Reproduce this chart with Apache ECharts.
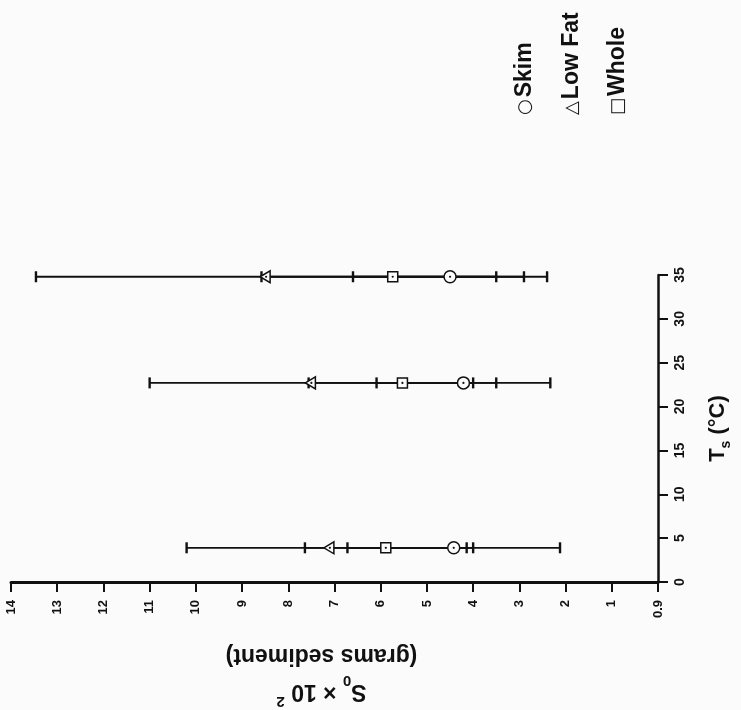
<!DOCTYPE html>
<html>
<head>
<meta charset="utf-8">
<title>Sediment vs storage temperature</title>
<script src="https://cdn.jsdelivr.net/npm/echarts@6/dist/echarts.min.js"></script>
<style>
  html, body { margin: 0; padding: 0; background: #fbfbfb; }
  #chart { width: 741px; height: 710px; }
</style>
</head>
<body>
<div id="chart"></div>
<script>
// Storage temperatures (°C) at which sediment was measured
const temperatures = [3.9, 22.7, 34.8];

// Milk types, in legend order
const seriesNames = ['Skim', 'Low Fat', 'Whole'];
const legendGlyphs = ['○', '△', '□'];

// Mean sediment (S0 × 10^2, grams) and error half-widths per temperature
const skimMean   = [4.42, 4.21, 4.50];
const skimErr    = [2.30, 1.88, 2.10];
const lowFatMean = [7.10, 7.50, 8.48];
const lowFatErr  = [3.10, 3.50, 4.98];
const wholeMean  = [5.89, 5.53, 5.74];
const wholeErr   = [1.75, 2.03, 2.84];

// Tick labels of the sediment axis (value 0..14) and temperature axis
const s0TickLabels = ['0.9', '1', '2', '3', '4', '5', '6', '7', '8', '9', '10', '11', '12', '13', '14'];
const tsTickLabels = ['0', '5', '10', '15', '20', '25', '30', '35'];

const FONT = '"Liberation Sans", Arial, Helvetica, "DejaVu Sans", sans-serif';
const INK = '#111111';

function buildRows(mean, err) {
  return temperatures.map((t, i) => [mean[i], t, mean[i] - err[i], mean[i] + err[i]]);
}

const seriesRows = [
  buildRows(skimMean, skimErr),
  buildRows(lowFatMean, lowFatErr),
  buildRows(wholeMean, wholeErr)
];
const markerKinds = ['circle', 'triangle', 'square'];

// Horizontal error bar with end caps
function errorBarSeries(name, rows) {
  return {
    type: 'custom',
    name: name,
    z: 2,
    data: rows,
    encode: { x: [0, 2, 3], y: 1 },
    renderItem: function (params, api) {
      const t = api.value(1);
      const lo = api.coord([api.value(2), t]);
      const hi = api.coord([api.value(3), t]);
      const cap = 5.5;
      return {
        type: 'group',
        children: [
          { type: 'line', shape: { x1: lo[0], y1: lo[1], x2: hi[0], y2: hi[1] }, style: { stroke: INK, lineWidth: 1.8 } },
          { type: 'line', shape: { x1: lo[0], y1: lo[1] - cap, x2: lo[0], y2: lo[1] + cap }, style: { stroke: INK, lineWidth: 2.4 } },
          { type: 'line', shape: { x1: hi[0], y1: hi[1] - cap, x2: hi[0], y2: hi[1] + cap }, style: { stroke: INK, lineWidth: 2.4 } }
        ]
      };
    }
  };
}

// Open marker with a small centre dot at the mean
function markerSeries(name, rows, kind) {
  return {
    type: 'custom',
    name: name,
    z: 3,
    data: rows,
    encode: { x: 0, y: 1 },
    renderItem: function (params, api) {
      const p = api.coord([api.value(0), api.value(1)]);
      const stroke = { fill: '#fbfbfb', stroke: INK, lineWidth: 1.5 };
      let shape;
      if (kind === 'circle') {
        shape = { type: 'circle', shape: { cx: p[0], cy: p[1], r: 6 }, style: stroke };
      } else if (kind === 'square') {
        shape = { type: 'rect', shape: { x: p[0] - 5, y: p[1] - 5, width: 10, height: 10 }, style: stroke };
      } else {
        // triangle pointing toward larger sediment values
        shape = {
          type: 'polygon',
          shape: { points: [[p[0] - 6, p[1]], [p[0] + 4, p[1] - 6], [p[0] + 4, p[1] + 6]] },
          style: stroke
        };
      }
      return {
        type: 'group',
        children: [
          shape,
          { type: 'circle', shape: { cx: p[0], cy: p[1], r: 1.1 }, style: { fill: INK } }
        ]
      };
    }
  };
}

const series = [];
seriesNames.forEach((n, i) => series.push(errorBarSeries(n, seriesRows[i])));
seriesNames.forEach((n, i) => series.push(markerSeries(n, seriesRows[i], markerKinds[i])));

const legendX = [525, 572, 618];
const legendBaseY = 115;

const chart = echarts.init(document.getElementById('chart'), null, { renderer: 'canvas' });

chart.setOption({
  backgroundColor: '#fbfbfb',
  animation: false,
  textStyle: { fontFamily: FONT, color: INK },
  grid: { left: 11, right: 68, top: 275, bottom: 117, containLabel: false },
  xAxis: {
    type: 'value',
    min: 0,
    max: 14,
    interval: 1,
    inverse: true,
    position: 'bottom',
    axisLine: { show: true, onZero: false, lineStyle: { color: INK, width: 3 } },
    axisTick: { show: true, inside: false, length: 10, lineStyle: { color: INK, width: 2 } },
    splitLine: { show: false },
    axisLabel: {
      rotate: 90,
      margin: 18,
      fontSize: 13,
      fontWeight: 'bold',
      fontFamily: FONT,
      color: INK,
      showMinLabel: true,
      showMaxLabel: true,
      formatter: function (v) { return s0TickLabels[Math.round(v)]; }
    },
    name: '{b|S}{sub|0}{b| × 10 }{sup|2}\n{b|(grams sediment)}',
    nameLocation: 'middle',
    nameRotate: 180,
    nameGap: 55,
    nameTextStyle: {
      fontFamily: FONT,
      color: INK,
      padding: [0, 0, 0, 26],
      rich: {
        b: { fontSize: 23, fontWeight: 'bold', fontFamily: FONT, color: INK, lineHeight: 36 },
        sub: { fontSize: 15, fontWeight: 'bold', fontFamily: FONT, color: INK, lineHeight: 22, verticalAlign: 'bottom' },
        sup: { fontSize: 15, fontWeight: 'bold', fontFamily: FONT, color: INK, lineHeight: 22, verticalAlign: 'top' }
      }
    }
  },
  yAxis: {
    type: 'value',
    min: 0,
    max: 35,
    interval: 5,
    position: 'right',
    axisLine: { show: true, onZero: false, lineStyle: { color: INK, width: 2.5 } },
    axisTick: { show: true, inside: false, length: 10, lineStyle: { color: INK, width: 2 } },
    splitLine: { show: false },
    axisLabel: {
      rotate: 90,
      margin: 15,
      fontSize: 14,
      fontWeight: 'bold',
      fontFamily: FONT,
      color: INK,
      showMinLabel: true,
      showMaxLabel: true,
      formatter: function (v) { return tsTickLabels[Math.round(v / 5)]; }
    },
    name: '{b|T}{sub|s}{b| (°C)}',
    nameLocation: 'middle',
    nameRotate: 90,
    nameGap: 45,
    nameTextStyle: {
      fontFamily: FONT,
      color: INK,
      rich: {
        b: { fontSize: 22, fontWeight: 'bold', fontFamily: FONT, color: INK, lineHeight: 30 },
        sub: { fontSize: 14, fontWeight: 'bold', fontFamily: FONT, color: INK, lineHeight: 18, verticalAlign: 'bottom' }
      }
    }
  },
  graphic: seriesNames.map(function (name, i) {
    return {
      type: 'text',
      x: legendX[i],
      y: legendBaseY,
      rotation: Math.PI / 2,
      style: {
        text: '{sym|' + legendGlyphs[i] + '}{t|' + name + '}',
        align: 'left',
        verticalAlign: 'middle',
        rich: {
          sym: { fontSize: 18, fontFamily: '"DejaVu Sans", sans-serif', fill: INK, padding: [0, 2, 0, 0] },
          t: { fontSize: 23, fontWeight: 'bold', fontFamily: FONT, fill: INK }
        }
      }
    };
  }),
  series: series
});
</script>
</body>
</html>
